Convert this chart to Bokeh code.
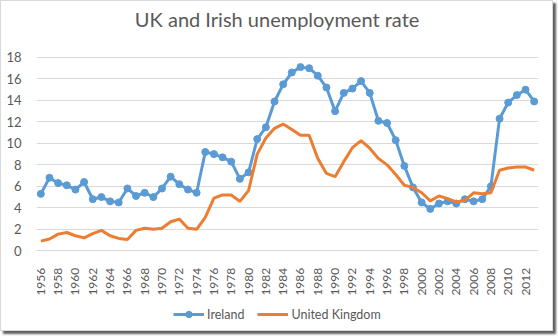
from bokeh.plotting import figure
from bokeh.embed import file_html
from bokeh.resources import INLINE
from bokeh.models import Legend, LegendItem, FixedTicker, ColumnDataSource, Label, LinearAxis
import math

years = list(range(1956, 2014))
ireland = [5.3, 6.8, 6.3, 6.1, 5.7, 6.4, 4.8, 5.0, 4.6, 4.5,
           5.8, 5.1, 5.4, 5.0, 5.8, 6.9, 6.2, 5.7, 5.4, 9.2,
           9.0, 8.7, 8.3, 6.7, 7.3, 10.4, 11.5, 13.9, 15.5, 16.6,
           17.1, 17.0, 16.3, 15.2, 13.0, 14.7, 15.1, 15.8, 14.7, 12.1,
           11.9, 10.3, 7.9, 5.9, 4.5, 3.9, 4.4, 4.6, 4.4, 4.8,
           4.6, 4.8, 6.0, 12.3, 13.8, 14.5, 15.0, 13.9]
uk = [0.9, 1.1, 1.55, 1.7, 1.4, 1.2, 1.6, 1.9, 1.4, 1.15,
      1.05, 1.9, 2.1, 2.0, 2.1, 2.7, 2.95, 2.1, 2.0, 3.1,
      4.9, 5.2, 5.2, 4.6, 5.6, 9.0, 10.5, 11.4, 11.8, 11.3,
      10.75, 10.75, 8.6, 7.2, 6.9, 8.3, 9.6, 10.25, 9.55, 8.6,
      8.0, 7.1, 6.1, 5.9, 5.4, 4.65, 5.1, 4.85, 4.55, 4.7,
      5.4, 5.3, 5.4, 7.5, 7.7, 7.8, 7.8, 7.5]
x_ticks = list(range(1956, 2013, 2))
y_ticks = list(range(0, 19, 2))
title_text = "UK and Irish unemployment rate"

FONT = "Lato"
TXT = "#595959"

src = ColumnDataSource(dict(year=years, ireland=ireland, uk=uk))

# frame spans the full canvas height; value axis 0..18 occupies the upper part
p = figure(width=553, height=331, output_backend="svg", toolbar_location=None,
           x_range=(1955.5, 2013.5), y_range=(-7.61, 23.21),
           x_axis_location=None,
           min_border_left=35, min_border_right=16, min_border_top=0, min_border_bottom=0)
p.styles = {"border": "1px solid #d9d9d9", "box-shadow": "3px 3px 2px #606060"}

p.outline_line_color = None
p.background_fill_color = "white"
p.border_fill_color = "white"

p.xgrid.grid_line_color = None
p.ygrid.grid_line_color = "#d9d9d9"
p.ygrid.grid_line_width = 1
p.ygrid.ticker = FixedTicker(ticks=y_ticks)

p.yaxis.ticker = FixedTicker(ticks=y_ticks)
p.yaxis.axis_line_color = None
p.yaxis.major_tick_line_color = None
p.yaxis.minor_tick_line_color = None
p.yaxis.major_label_text_font = FONT
p.yaxis.major_label_text_font_size = "13px"
p.yaxis.major_label_text_color = TXT
p.yaxis.major_label_standoff = 9

xaxis = LinearAxis(fixed_location=0, ticker=FixedTicker(ticks=x_ticks))
xaxis.axis_line_color = "#d9d9d9"
xaxis.major_tick_line_color = None
xaxis.minor_tick_line_color = None
xaxis.major_label_orientation = math.pi / 2
xaxis.major_label_text_font = FONT
xaxis.major_label_text_font_size = "12px"
xaxis.major_label_text_color = TXT
xaxis.major_label_standoff = 11
p.add_layout(xaxis, "below")

r_ie = p.line("year", "ireland", source=src, line_color="#5B9BD5", line_width=3)
r_iem = p.scatter("year", "ireland", source=src, marker="circle", size=7,
                  fill_color="#5B9BD5", line_color="#5B9BD5")
r_uk = p.line("year", "uk", source=src, line_color="#ED7D31", line_width=3)

title = Label(x=1983.3, y=21.55, text=title_text, text_align="center",
              text_baseline="middle", text_font=FONT, text_font_size="20px",
              text_color=TXT)
p.add_layout(title)

legend = Legend(items=[LegendItem(label="Ireland", renderers=[r_ie, r_iem]),
                       LegendItem(label="United Kingdom", renderers=[r_uk])],
                orientation="horizontal", location=(137, 10))
legend.label_text_font = FONT
legend.label_text_font_size = "12.5px"
legend.label_text_color = TXT
legend.glyph_width = 31
legend.glyph_height = 16
legend.label_height = 16
legend.label_standoff = 3
legend.spacing = 13
legend.border_line_color = None
legend.background_fill_alpha = 0
legend.padding = 0
legend.margin = 0
p.add_layout(legend)

open("out.html", "w").write(file_html(p, INLINE))
